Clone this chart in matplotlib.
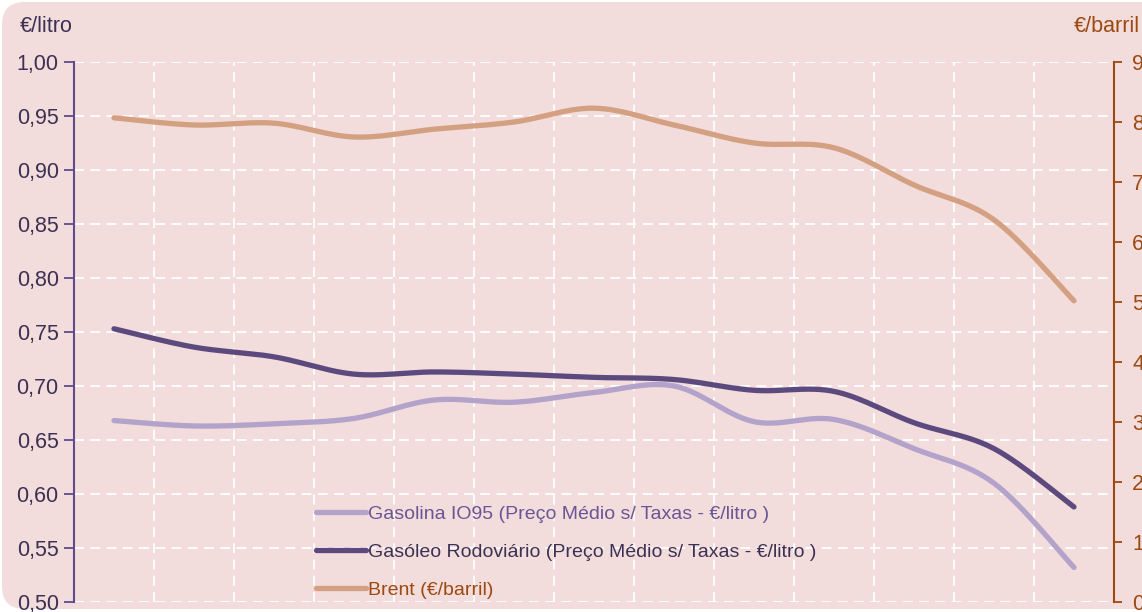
import numpy as np
import matplotlib
matplotlib.use("Agg")
import matplotlib.pyplot as plt
from matplotlib.patches import FancyBboxPatch

plt.rcParams['font.family'] = ['Liberation Sans', 'DejaVu Sans']

# ---- data ----
periods = list(range(13))
gasolina = [0.668, 0.663, 0.665, 0.670, 0.687, 0.685, 0.694, 0.700, 0.667, 0.669, 0.642, 0.610, 0.532]
gasoleo = [0.753, 0.736, 0.727, 0.711, 0.713, 0.711, 0.708, 0.706, 0.696, 0.695, 0.666, 0.642, 0.588]
brent = [80.7, 79.5, 79.8, 77.5, 78.8, 80.0, 82.3, 79.5, 76.5, 75.7, 69.5, 63.7, 50.2]

labels = ["Gasolina IO95 (Preço Médio s/ Taxas - €/litro )",
          "Gasóleo Rodoviário (Preço Médio s/ Taxas - €/litro )",
          "Brent (€/barril)"]
left_ticks = [0.50, 0.55, 0.60, 0.65, 0.70, 0.75, 0.80, 0.85, 0.90, 0.95, 1.00]
right_ticks = [0, 10, 20, 30, 40, 50, 60, 70, 80, 90]

c_gasolina = "#b3a2c9"
c_gasoleo = "#5c4a7f"
c_brent = "#d3a082"
c_left = "#5f4b8b"
c_lefttxt = "#3c3152"
c_right = "#9c4a10"
bg = "#f2dcdc"
fs_axis = 15.5
fs_leg = 14


def smooth(x, y, n=30):
    """Catmull-Rom smoothing between points (Excel-like smoothed line)."""
    x = np.asarray(x, float); y = np.asarray(y, float)
    px = np.concatenate([[x[0]], x, [x[-1]]])
    py = np.concatenate([[y[0]], y, [y[-1]]])
    xs, ys = [], []
    for i in range(1, len(px) - 2):
        p0, p1, p2, p3 = (np.array([px[j], py[j]]) for j in (i - 1, i, i + 1, i + 2))
        c1 = p1 + (p2 - p0) / 6
        c2 = p2 - (p3 - p1) / 6
        t = np.linspace(0, 1, n)[:, None]
        b = (1 - t) ** 3 * p1 + 3 * (1 - t) ** 2 * t * c1 + 3 * (1 - t) * t ** 2 * c2 + t ** 3 * p2
        xs.append(b[:, 0]); ys.append(b[:, 1])
    return np.concatenate(xs), np.concatenate(ys)


W, H = 1142, 612
fig = plt.figure(figsize=(W / 100, H / 100), dpi=100, facecolor="white")
box = FancyBboxPatch((2 / W, 3 / H), 1.2, (607) / H,
                     boxstyle="round,pad=0,rounding_size=0.02",
                     transform=fig.transFigure, facecolor=bg, edgecolor="none",
                     mutation_aspect=W / H, zorder=-10)
fig.patches.append(box)

ax = fig.add_axes([74 / W, 10 / H, (1114 - 74) / W, (602 - 62) / H])
ax.set_zorder(1)
ax.set_facecolor("none")
ax.set_xlim(-0.5, 12.5)
ax.set_ylim(0.50, 1.00)

grid_kw = dict(color="white", lw=1.3, ls=(0, (5.5, 3.5)), zorder=1)
for v in left_ticks:
    ax.axhline(v, **grid_kw)
for k in range(13):
    ax.axvline(k + 0.5, **grid_kw)

ax.set_yticks(left_ticks)
ax.set_yticklabels([f"{v:.2f}".replace(".", ",") for v in left_ticks],
                   color=c_lefttxt, fontsize=fs_axis)
ax.tick_params(axis="y", color=c_left, length=7, width=1.3, pad=4)
ax.set_xticks([])
for s in ["top", "right", "bottom"]:
    ax.spines[s].set_visible(False)
ax.spines["left"].set_color(c_left)
ax.spines["left"].set_linewidth(1.5)

l1, = ax.plot(*smooth(periods, gasolina), color=c_gasolina, lw=3.8,
              solid_capstyle="round", zorder=3, label=labels[0])
l2, = ax.plot(*smooth(periods, gasoleo), color=c_gasoleo, lw=3.8,
              solid_capstyle="round", zorder=4, label=labels[1])

ax2 = ax.twinx()
ax2.set_zorder(2)
ax2.set_facecolor("none")
ax2.set_ylim(0, 90)
ax2.set_yticks(right_ticks)
ax2.set_yticklabels([str(v) for v in right_ticks], color=c_right, fontsize=fs_axis)
ax2.tick_params(axis="y", color=c_right, length=6, width=1.3, pad=7)
for s in ["top", "left", "bottom"]:
    ax2.spines[s].set_visible(False)
ax2.spines["right"].set_color(c_right)
ax2.spines["right"].set_linewidth(1.5)
l3, = ax2.plot(*smooth(periods, brent), color=c_brent, lw=3.8,
               solid_capstyle="round", zorder=3, label=labels[2])

leg = ax2.legend([l1, l2, l3], labels, loc="upper left",
                 bbox_to_anchor=(316 / W, (H - 505) / H), bbox_transform=fig.transFigure,
                 frameon=False, fontsize=fs_leg, handlelength=2.55, handletextpad=0.15,
                 labelspacing=1.05, borderaxespad=0, borderpad=0,
                 labelcolor=["#6a5694", c_lefttxt, c_right])

fig.text(20 / W, 1 - 27 / H, "€/litro", color=c_lefttxt, fontsize=fs_axis, va="center", ha="left")
fig.text(1140 / W, 1 - 27 / H, "€/barril", color=c_right, fontsize=fs_axis, va="center", ha="right")

fig.savefig("out.png", dpi=100, facecolor="white")
